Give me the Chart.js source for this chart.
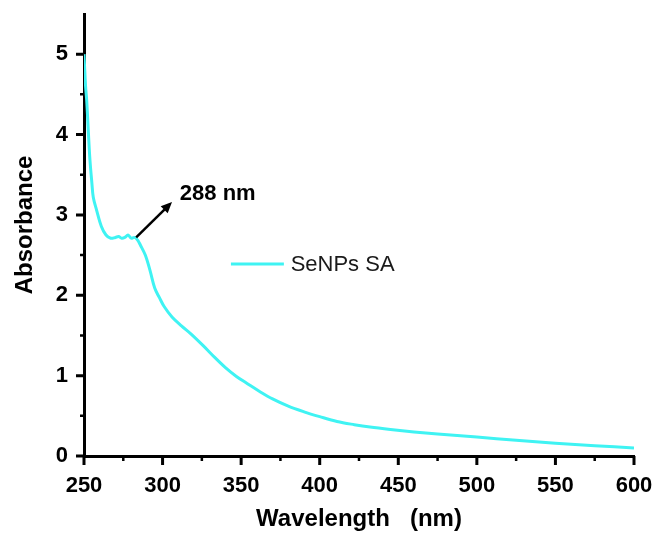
<!DOCTYPE html>
<html>
<head>
<meta charset="utf-8">
<script src="https://cdn.jsdelivr.net/npm/chart.js@4.4.1/dist/chart.umd.min.js"></script>
<style>
  html, body { margin: 0; padding: 0; background: #fff; }
  #wrap { width: 652px; height: 535px; }
</style>
</head>
<body>
<div id="wrap"><canvas id="chart"></canvas></div>
<script>
// spectrum
const WAVELENGTH = [250, 251, 251.7, 252.8, 253.8, 255, 255.9, 258, 261, 264, 267, 270, 272, 274, 276, 278, 280, 282, 284,
  286, 289, 292, 295, 298, 301, 306, 312, 318, 326, 333, 340, 347, 354, 362, 370, 380, 390, 400, 411, 422, 432,
  445, 460, 475, 500, 525, 550, 575, 600];
const ABSORBANCE = [5.0, 4.6, 4.43, 4.02, 3.68, 3.40, 3.22, 3.06, 2.86, 2.75, 2.71, 2.72, 2.73, 2.71, 2.72, 2.75, 2.71, 2.72, 2.69,
  2.62, 2.50, 2.31, 2.09, 1.97, 1.86, 1.73, 1.62, 1.52, 1.37, 1.23, 1.10, 0.99, 0.90, 0.80, 0.71, 0.62, 0.55, 0.49, 0.43, 0.39, 0.36,
  0.33, 0.30, 0.275, 0.235, 0.195, 0.158, 0.128, 0.10];
const X_TICKS = [250, 300, 350, 400, 450, 500, 550, 600];
const X_MINOR = [275, 325, 375, 425, 475, 525, 575];
const Y_TICKS = [0, 1, 2, 3, 4, 5];
const Y_MINOR = [0.5, 1.5, 2.5, 3.5, 4.5];
const SERIES_LABEL = 'SeNPs SA';
const PEAK_LABEL = '288 nm';

const LINE_COLOR = '#3ff3f3';
const FONT = "'Liberation Sans', Arial, sans-serif";

const points = WAVELENGTH.map((x, i) => ({ x, y: ABSORBANCE[i] }));

// tick marks (major/minor), legend and the peak arrow
const decor = {
  id: 'decor',
  afterDraw(chart) {
    const { ctx, scales: { x, y }, chartArea: a } = chart;
    ctx.save();
    ctx.strokeStyle = '#000';
    ctx.lineWidth = 3;
    ctx.beginPath();
    X_TICKS.forEach(v => { const px = x.getPixelForValue(v); ctx.moveTo(px, a.bottom); ctx.lineTo(px, a.bottom + 9); });
    Y_TICKS.forEach(v => { const py = y.getPixelForValue(v); ctx.moveTo(a.left, py); ctx.lineTo(a.left - 8, py); });
    ctx.stroke();
    ctx.lineWidth = 2.5;
    ctx.beginPath();
    X_MINOR.forEach(v => { const px = x.getPixelForValue(v); ctx.moveTo(px, a.bottom); ctx.lineTo(px, a.bottom + 5); });
    Y_MINOR.forEach(v => { const py = y.getPixelForValue(v); ctx.moveTo(a.left, py); ctx.lineTo(a.left - 4, py); });
    ctx.stroke();

    // legend
    const ly = y.getPixelForValue(2.39);
    ctx.strokeStyle = LINE_COLOR;
    ctx.lineWidth = 3;
    ctx.beginPath();
    ctx.moveTo(x.getPixelForValue(343.5), ly);
    ctx.lineTo(x.getPixelForValue(377.2), ly);
    ctx.stroke();
    ctx.fillStyle = '#1a1a1a';
    ctx.font = '22px ' + FONT;
    ctx.textBaseline = 'middle';
    ctx.fillText(SERIES_LABEL, x.getPixelForValue(381.5), ly + 1);

    // arrow to the 288 nm shoulder
    const x0 = x.getPixelForValue(283.2), y0 = y.getPixelForValue(2.72);
    const x1 = x.getPixelForValue(306), y1 = y.getPixelForValue(3.16);
    const ang = Math.atan2(y1 - y0, x1 - x0);
    ctx.strokeStyle = '#000';
    ctx.fillStyle = '#000';
    ctx.lineWidth = 2.5;
    ctx.beginPath();
    ctx.moveTo(x0, y0);
    ctx.lineTo(x1 - 6 * Math.cos(ang), y1 - 6 * Math.sin(ang));
    ctx.stroke();
    ctx.beginPath();
    ctx.moveTo(x1, y1);
    ctx.lineTo(x1 - 11 * Math.cos(ang) + 5 * Math.sin(ang), y1 - 11 * Math.sin(ang) - 5 * Math.cos(ang));
    ctx.lineTo(x1 - 11 * Math.cos(ang) - 5 * Math.sin(ang), y1 - 11 * Math.sin(ang) + 5 * Math.cos(ang));
    ctx.closePath();
    ctx.fill();
    ctx.font = 'bold 22px ' + FONT;
    ctx.fillText(PEAK_LABEL, x.getPixelForValue(311), y.getPixelForValue(3.26));
    ctx.restore();
  }
};

new Chart(document.getElementById('chart'), {
  type: 'line',
  data: {
    datasets: [{
      label: SERIES_LABEL, data: points, borderColor: LINE_COLOR, borderWidth: 3,
      pointRadius: 0, tension: 0.35, fill: false
    }]
  },
  options: {
    responsive: true, maintainAspectRatio: false, animation: false,
    layout: { padding: { top: 14, right: 18, left: 0, bottom: 0 } },
    plugins: { legend: { display: false }, tooltip: { enabled: false } },
    scales: {
      x: {
        type: 'linear', min: 250, max: 600,
        afterFit: s => { s.height = 79; s.paddingLeft = 0; s.paddingRight = 0; },
        afterBuildTicks: s => { s.ticks = X_TICKS.map(v => ({ value: v })); },
        grid: { display: false, drawTicks: false },
        border: { display: true, color: '#000', width: 3 },
        ticks: { color: '#000', padding: 17, maxRotation: 0, font: { family: FONT, size: 22, weight: 'bold' } },
        title: { display: true, text: 'Wavelength   (nm)', color: '#000', padding: { top: 0, bottom: 1 },
          font: { family: FONT, size: 24, weight: 'bold' } }
      },
      y: {
        min: 0, max: 5.5,
        afterFit: s => { s.width = 84; s.paddingTop = 0; s.paddingBottom = 0; },
        afterBuildTicks: s => { s.ticks = Y_TICKS.map(v => ({ value: v })); },
        grid: { display: false, drawTicks: false },
        border: { display: true, color: '#000', width: 3 },
        ticks: { color: '#000', padding: 16, font: { family: FONT, size: 22, weight: 'bold' } },
        // leading spaces nudge the rotated title up to where the reference has it
        title: { display: true, text: '   Absorbance', color: '#000', padding: { top: 11, bottom: 0 },
          font: { family: FONT, size: 24, weight: 'bold' } }
      }
    }
  },
  plugins: [decor]
});
</script>
</body>
</html>
